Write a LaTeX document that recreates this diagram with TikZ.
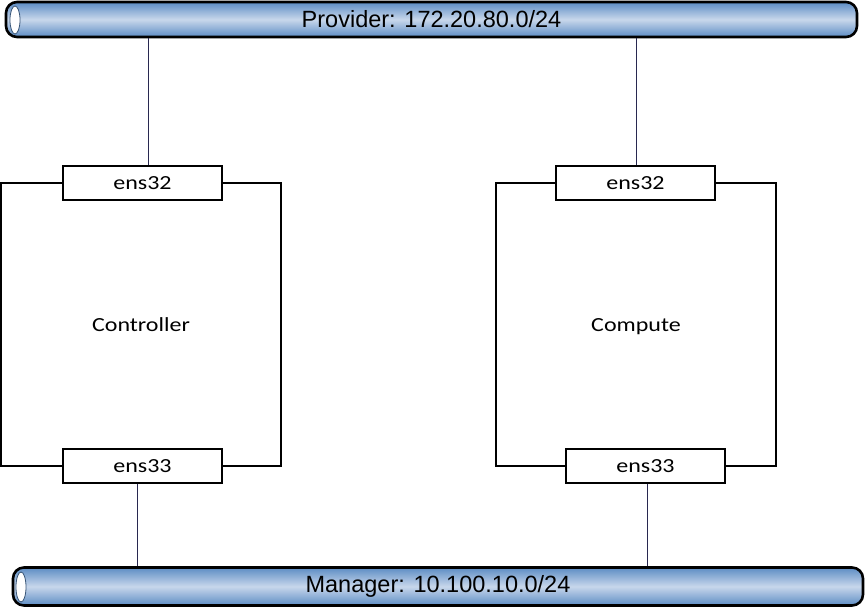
\documentclass[tikz,border=0pt]{standalone}
\usepackage{fontspec}
\setmainfont{Carlito}
\newfontfamily\boxfont[FakeStretch=1.2]{Carlito}
\newfontfamily\pipefont{Liberation Sans}
\definecolor{pipedark}{RGB}{92,140,196}
\definecolor{pipelight}{RGB}{200,215,235}
\definecolor{linkc}{RGB}{40,40,80}
\begin{document}
\begin{tikzpicture}[x=1pt,y=-1pt,
  pipe/.style={draw=black, line width=2.6pt, rounded corners=11pt, top color=pipedark, bottom color=pipedark, middle color=pipelight, inner sep=0pt, font=\pipefont\fontsize{23.5}{28}\selectfont},
  host/.style={draw=black, line width=1.2pt, fill=white, inner sep=0pt, text height=13pt, text depth=0pt, font=\boxfont\fontsize{20}{24}\selectfont},
  port/.style={draw=black, line width=1.2pt, fill=white, minimum width=159pt, minimum height=34pt, inner sep=0pt, text height=13pt, text depth=0pt, font=\boxfont\fontsize{20}{24}\selectfont},
  pipecap/.style={draw=pipedark!60!black, line width=0.8pt, fill=white},
  link/.style={draw=linkc, line width=0.8pt}]
\useasboundingbox (0,0) rectangle (865,607);
% pipes
\node[pipe, minimum width=851pt, minimum height=35pt] (prov) at (431.5,19.5) {Provider: 172.20.80.0/24};
\draw[pipecap] (15,20) ellipse [x radius=5, y radius=14];
\node[pipe, minimum width=850pt, minimum height=38pt] (mgr) at (438,586.5) {Manager: 10.100.10.0/24};
\draw[pipecap] (21,587) ellipse [x radius=5, y radius=15];
% hosts
\node[host, minimum width=280pt, minimum height=283pt] (ctrl) at (141,324.5) {Controller};
\node[host, minimum width=280pt, minimum height=283pt] (comp) at (636,324.5) {Compute};
\node[port] (c32) at (142.5,183) {ens32};
\node[port] (c33) at (142.5,466) {ens33};
\node[port] (p32) at (635.5,183) {ens32};
\node[port] (p33) at (645.5,466) {ens33};
% links
\coordinate (xa) at (148,0);
\coordinate (xb) at (636,0);
\coordinate (xc) at (137,0);
\coordinate (xd) at (647,0);
\draw[link] (prov.south -| xa) -- (c32.north -| xa);
\draw[link] (prov.south -| xb) -- (p32.north -| xb);
\draw[link] (c33.south -| xc) -- (mgr.north -| xc);
\draw[link] (p33.south -| xd) -- (mgr.north -| xd);
\end{tikzpicture}
\end{document}
